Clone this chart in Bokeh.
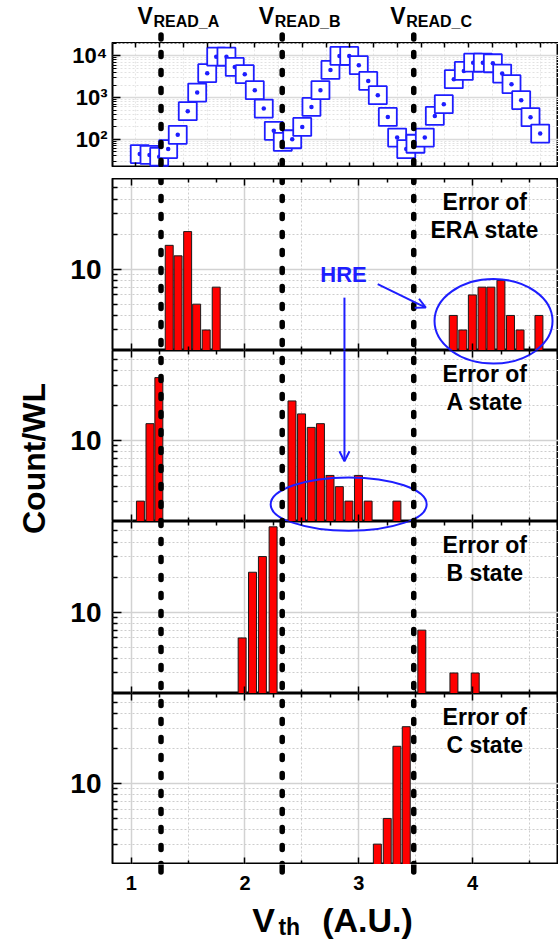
import math
from bokeh.plotting import figure
from bokeh.layouts import column, row
from bokeh.models import (Range1d, FixedTicker, LinearAxis, Span, Arrow, OpenHead,
                          PrintfTickFormatter, CustomJSTickFormatter)
from bokeh.core.properties import value
from bokeh.embed import file_html
from bokeh.resources import INLINE

# ---------------- data ----------------
v_read = [1.262, 2.327, 3.483]
v_read_sub = ["READ_A", "READ_B", "READ_C"]

dist_vth = [1.075, 1.161, 1.246, 1.325, 1.409, 1.497, 1.580, 1.668, 1.747, 1.837,
            1.910, 1.998, 2.086, 2.165, 2.253, 2.332, 2.415, 2.503, 2.584, 2.663,
            2.751, 2.830, 2.916, 3.000, 3.083, 3.167, 3.255, 3.337, 3.417, 3.498,
            3.580, 3.668, 3.747, 3.835, 3.923, 4.005, 4.090, 4.178, 4.260, 4.342,
            4.427, 4.509, 4.594]
dist_count = [44, 42, 38, 58, 128, 472, 1318, 3846, 9620, 9620,
              5450, 3640, 1503, 545, 159, 87, 100, 198, 598, 1503,
              4615, 10000, 10000, 5990, 2512, 1143, 344, 110, 58, 78,
              110, 364, 695, 2761, 4365, 6900, 6900, 6680, 3770, 2094,
              867, 339, 137]

era_vth = [1.334, 1.412, 1.496, 1.575, 1.659, 1.747,
           3.830, 3.914, 3.998, 4.083, 4.161, 4.249, 4.333, 4.417, 4.583]
era_cnt = [16, 13, 21, 5, 3, 7,
           4, 3, 6, 7, 7, 8, 4, 3, 4]

a_vth = [1.081, 1.165, 1.243,
         2.413, 2.497, 2.582, 2.663, 2.747, 2.829, 2.913, 2.997, 3.082, 3.335]
a_cnt = [3, 14, 35,
         22, 17, 13, 14, 5, 4, 3, 5, 3, 3]

b_vth = [1.975, 2.066, 2.153, 2.247, 3.554, 3.836, 4.023]
b_cnt = [6, 22, 30, 54, 7, 3, 3]

c_vth = [3.163, 3.250, 3.335, 3.417]
c_cnt = [3, 5, 21, 31]

x_tick_vals = [1, 2, 3, 4]
state_labels = ["ERA state", "A state", "B state", "C state"]

# ---------------- style / layout constants ----------------
FONT = "Liberation Sans"
BLUE = "#1e1eff"
RED = "#ff0000"
X0, X1 = 0.8357, 4.7549
W = 558
LEFT = 112
LCOL = 60
PANEL_W = W - LCOL
PANEL_LEFT = LEFT - LCOL
DASH = "4 14"
DASH_START = 34.5
LW_DASH = 5.5

x_half = [1.5, 2.5, 3.5, 4.5]
x_quarter = [1.25, 1.5, 1.75, 2.25, 2.5, 2.75, 3.25, 3.5, 3.75, 4.25, 4.5, 4.75]
top_xticks = [round(1.04 + 0.209 * k, 3) for k in range(-1, 18)]
y_minor = [3, 4, 5, 6, 7, 8, 9, 20, 30, 40, 50]
top_y_minor = [m * d for d in (10, 100, 1000) for m in range(2, 10) if m * d > 21] + [20000]


def base_fig(width, height, min_left, x_range, y_range, y_type="linear", axes=True):
    kw = dict(width=width, height=height, x_range=x_range, y_range=y_range,
              output_backend="svg", toolbar_location=None,
              min_border_left=min_left, min_border_right=0,
              min_border_top=0, min_border_bottom=0)
    if axes:
        p = figure(y_axis_type=y_type, **kw)
    else:
        p = figure(x_axis_type=None, y_axis_type=None, **kw)
    p.outline_line_color = None
    p.background_fill_color = "white"
    p.border_fill_color = "white"
    return p


def add_vlines(p, top_page):
    off = int(round((top_page - DASH_START) % 18))
    for v in v_read:
        p.add_layout(Span(location=v, dimension="height", line_color="black",
                          line_width=LW_DASH, line_dash=DASH, line_dash_offset=off,
                          line_cap="round"))


def silent_axis(ax, ticker, major_in=7, minor_in=4):
    ax.ticker = ticker
    ax.major_tick_in = major_in
    ax.major_tick_out = 0
    ax.minor_tick_in = minor_in
    ax.minor_tick_out = 0
    ax.major_tick_line_color = "black"
    ax.minor_tick_line_color = "black"
    ax.major_tick_line_width = 1.5
    ax.minor_tick_line_width = 1.5
    ax.major_label_text_font_size = "0px"
    ax.major_label_text_color = None
    ax.major_label_standoff = 0
    ax.axis_line_color = None


def style_grid(p, major_color="#d2d2d2", minor_color="#cdcdcd"):
    for g in (p.xgrid, p.ygrid):
        g.grid_line_color = major_color
        g.grid_line_width = 1.5
        g.minor_grid_line_color = minor_color
        g.minor_grid_line_dash = "2 2"
        g.minor_grid_line_width = 1


def bold_text(p, x, y, text, size, color="black", align="center", **kw):
    p.text(x=x, y=y, text=text, text_align=align, text_baseline="middle",
           text_font=value(FONT), text_font_size=value(size), text_font_style="bold",
           text_color=color, **kw)


# ---------------- header (V_READ labels) ----------------
header = base_fig(W, 42, LEFT, Range1d(X0, X1), Range1d(0, 42), axes=False)
bold_text(header, v_read, [27] * 3, ["V"] * 3, "23px", align="left", x_offset=-23.5)
bold_text(header, v_read, [21.5] * 3, v_read_sub, "16px", align="left", x_offset=-7.5)
header.segment(x0=v_read, y0=[7.5] * 3, x1=v_read, y1=[-6] * 3, line_color="black",
               line_width=LW_DASH, line_dash=DASH, line_cap="round")

# ---------------- top panel: Vth distribution ----------------
top = base_fig(W, 125, LEFT, Range1d(X0, X1), Range1d(21, 21000), "log")
top.outline_line_color = "black"
top.outline_line_width = 2
silent_axis(top.xaxis[0], FixedTicker(ticks=top_xticks), major_in=5)
ab = LinearAxis()
silent_axis(ab, FixedTicker(ticks=top_xticks), major_in=5)
top.add_layout(ab, "above")
ya = top.yaxis[0]
ya.ticker = FixedTicker(ticks=[100, 1000, 10000], minor_ticks=top_y_minor)
ya.formatter = CustomJSTickFormatter(
    code="const e = Math.round(Math.log10(tick)); return '10' + ({2:'²',3:'³',4:'⁴'})[e];")
ya.major_label_text_font = FONT
ya.major_label_text_font_size = "22px"
ya.major_label_text_font_style = "bold"
ya.major_label_text_color = "black"
ya.major_label_standoff = 5
ya.major_tick_in = 8
ya.major_tick_out = 0
ya.minor_tick_in = 4
ya.minor_tick_out = 0
ya.major_tick_line_width = 1.5
ya.minor_tick_line_width = 1.2
ya.axis_line_color = None
style_grid(top, "#dadada", "#e2e2e2")
top.xgrid.grid_line_color = "#e6e6e6"
top.xgrid.grid_line_dash = "2 2"
top.xgrid.grid_line_width = 1
top.scatter(dist_vth, dist_count, marker="square_dot", size=18, line_color=BLUE,
            line_width=1.8, fill_color="white")
add_vlines(top, 42)

# ---------------- gap ----------------
gap = base_fig(W, 11, LEFT, Range1d(X0, X1), Range1d(0, 1), axes=False)
add_vlines(gap, 167)

# ---------------- error panels ----------------
TXT_X = 4.107
TXT_Y = [37.8, 21.7]


def make_panel(height, top_page, xs, ys, label):
    p = base_fig(PANEL_W, height, PANEL_LEFT, Range1d(X0, X1), Range1d(2, 60), "log")
    p.outline_line_color = "black"
    p.outline_line_width = 2
    silent_axis(p.xaxis[0], FixedTicker(ticks=x_tick_vals, minor_ticks=x_half))
    ab = LinearAxis()
    silent_axis(ab, FixedTicker(ticks=x_tick_vals, minor_ticks=x_quarter))
    p.add_layout(ab, "above")
    ya = p.yaxis[0]
    ya.ticker = FixedTicker(ticks=[10], minor_ticks=y_minor)
    ya.formatter = PrintfTickFormatter(format="%d")
    ya.major_label_text_font = FONT
    ya.major_label_text_font_size = "28px"
    ya.major_label_text_font_style = "bold"
    ya.major_label_text_color = "black"
    ya.major_label_standoff = 11
    ya.major_tick_in = 9
    ya.major_tick_out = 0
    ya.minor_tick_in = 5
    ya.minor_tick_out = 0
    ya.major_tick_line_width = 1.5
    ya.minor_tick_line_width = 1.5
    ya.axis_line_color = None
    style_grid(p)
    p.vbar(x=xs, top=ys, bottom=1, width=0.07, fill_color=RED,
           line_color="#1a1a1a", line_width=1)
    bold_text(p, [TXT_X] * 2, TXT_Y, ["Error of", label], "23px")
    add_vlines(p, top_page)
    return p


era = make_panel(172, 178, era_vth, era_cnt, state_labels[0])
pa = make_panel(171, 350, a_vth, a_cnt, state_labels[1])
pb = make_panel(172, 521, b_vth, b_cnt, state_labels[2])
pc = make_panel(171, 693, c_vth, c_cnt, state_labels[3])

# HRE annotations
HRE_X, HRE_Y = 2.866, 9.05
bold_text(era, [HRE_X], [HRE_Y], ["HRE"], "22px", color=BLUE)
era.add_layout(Arrow(end=OpenHead(size=10, line_color=BLUE, line_width=2),
                     x_start=3.166, y_start=7.43, x_end=3.589, y_end=4.67,
                     line_color=BLUE, line_width=2))
era.segment(x0=[2.874], y0=[5.69], x1=[2.874], y1=[1.0], line_color=BLUE, line_width=2)
pa.add_layout(Arrow(end=OpenHead(size=10, line_color=BLUE, line_width=2),
                    x_start=2.874, y_start=200, x_end=2.874, y_end=6.63,
                    line_color=BLUE, line_width=2))
# ellipse around ERA-state HRE bars (continues into A panel)
E1_X, E1_W, E1_H = 4.184, 118, 84
era.ellipse(x=[E1_X], y=[3.58], width=E1_W, height=E1_H, width_units="screen",
            height_units="screen", fill_color=None, line_color=BLUE, line_width=2)
pa.ellipse(x=[E1_X], y=[106.8], width=E1_W, height=E1_H, width_units="screen",
           height_units="screen", fill_color=None, line_color=BLUE, line_width=2)
# ellipse around A-state HRE bars (continues into B panel)
E2_X, E2_W, E2_H = 2.911, 156, 54
pa.ellipse(x=[E2_X], y=[2.81], width=E2_W, height=E2_H, width_units="screen",
           height_units="screen", fill_color=None, line_color=BLUE, line_width=2)
pb.ellipse(x=[E2_X], y=[85.1], width=E2_W, height=E2_H, width_units="screen",
           height_units="screen", fill_color=None, line_color=BLUE, line_width=2)

# ---------------- y title column ----------------
ytitle = base_fig(LCOL, 686, 0, Range1d(0, LCOL), Range1d(0, 686), axes=False)
bold_text(ytitle, [33.5], [406], ["Count/WL"], "32px", angle=math.pi / 2)

# ---------------- footer: tick labels ----------------
footer = figure(width=W, height=36, x_range=Range1d(X0, X1), y_range=Range1d(0, 11),
                y_axis_type=None, output_backend="svg", toolbar_location=None,
                min_border_left=LEFT, min_border_right=0, min_border_top=0,
                min_border_bottom=25)
footer.outline_line_color = None
footer.xgrid.visible = False
fx = footer.xaxis[0]
fx.ticker = FixedTicker(ticks=x_tick_vals)
fx.formatter = PrintfTickFormatter(format="%d")
fx.major_tick_in = 0
fx.major_tick_out = 0
fx.minor_tick_in = 0
fx.minor_tick_out = 0
fx.axis_line_color = None
fx.major_label_text_font = FONT
fx.major_label_text_font_size = "20px"
fx.major_label_text_font_style = "bold"
fx.major_label_text_color = "black"
fx.major_label_standoff = 0
footer.segment(x0=v_read, y0=[11] * 3, x1=v_read, y1=[3.5] * 3, line_color="black",
               line_width=LW_DASH, line_cap="round")

# ---------------- footer: x title ----------------
xtitle = base_fig(W, 40, LEFT, Range1d(X0, X1), Range1d(0, 40), axes=False)
bold_text(xtitle, [2.063], [20.5], ["V"], "34px", align="left")
bold_text(xtitle, [2.294], [14], ["th"], "23px", align="left")
bold_text(xtitle, [2.678], [20.5], ["(A.U.)"], "34px", align="left")

layout = column(header, top, gap,
                row(ytitle, column(era, pa, pb, pc, spacing=0), spacing=0),
                footer, xtitle, spacing=0)

open("out.html", "w").write(file_html(layout, INLINE))
